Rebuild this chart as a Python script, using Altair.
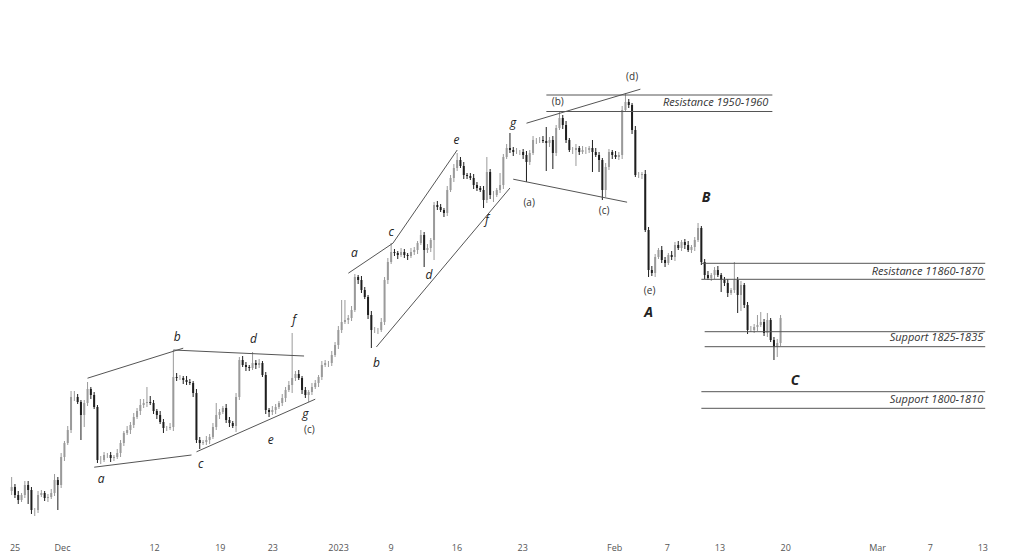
import json
import altair as alt
import pandas as pd

# ---- candle data (price units), 4 bars per trading day ----
first_open = 1762.0
closes = [
    1764, 1760, 1757.5, 1760, 1765, 1762.5, 1752.5, 1752.5, 1760, 1761,
    1758.5, 1759, 1761, 1767.5, 1765, 1779, 1786, 1792.5, 1809, 1809,
    1806.5, 1800, 1806, 1813, 1810, 1804, 1777.5, 1777.5, 1780, 1780,
    1778.5, 1779, 1781, 1786, 1791, 1792.5, 1795, 1799, 1802, 1805,
    1806, 1806.5, 1806, 1802, 1800, 1796.5, 1793.5, 1793.5, 1794, 1819,
    1818.5, 1818.5, 1817.5, 1816.5, 1816, 1811, 1787.5, 1786, 1786.5, 1787.5,
    1789, 1794, 1800, 1801.5, 1803.5, 1797.5, 1796, 1794.5, 1809, 1827.5,
    1825, 1824, 1823.5, 1826, 1825, 1826, 1820, 1802.5, 1801.5, 1802.5,
    1804, 1806, 1808.5, 1812.5, 1815, 1818.5, 1820.5, 1818.5, 1812.5, 1810,
    1811.5, 1814, 1816, 1819, 1825, 1826, 1826, 1830, 1835, 1842.5,
    1846.5, 1847.5, 1848.5, 1852.5, 1869, 1867.5, 1862.5, 1859, 1850, 1842.5,
    1842.5, 1842.5, 1846.5, 1867.5, 1876.5, 1881.5, 1881, 1880, 1881.5, 1880,
    1879.5, 1881.5, 1882.5, 1886, 1890, 1882.5, 1883.5, 1887.5, 1905, 1904,
    1902.5, 1901, 1912.5, 1918.5, 1923.5, 1927.5, 1924.5, 1920, 1919.5, 1918.5,
    1915, 1913.5, 1912.5, 1907.5, 1921.5, 1910, 1910, 1912.5, 1915, 1929,
    1933.5, 1932.5, 1931.5, 1931.5, 1931.5, 1930, 1926.5, 1931, 1937.5, 1937.5,
    1937.5, 1937, 1936, 1937.5, 1931, 1943.5, 1948.5, 1945, 1937.5, 1932.5,
    1932.5, 1933.5, 1931.5, 1932.5, 1932.5, 1933.5, 1931.5, 1930, 1927.5, 1912.5,
    1924, 1931.5, 1930, 1929, 1930, 1952.5, 1956.5, 1955, 1942.5, 1920,
    1920, 1920.5, 1892.5, 1872.5, 1871, 1879, 1882.5, 1877.5, 1876, 1880,
    1879, 1885, 1883.5, 1886.5, 1885, 1882.5, 1884, 1887.5, 1893.5, 1876.5,
    1870, 1868.5, 1870, 1872.5, 1870, 1867.5, 1866, 1861, 1862.5, 1867.5,
    1860, 1865, 1855, 1842.5, 1842.5, 1844, 1845, 1846.5, 1841, 1847.5,
    1837.5, 1834, 1836, 1848.5,
]
up_wick = [
    5, 1.5, 2, 1, 2, 2, 1.5, 1, 2, 1.5,
    1, 1.5, 2, 3, 1.5, 2, 1, 2, 3, 3,
    1.5, 1, 1.5, 3.5, 1, 1.5, 1, 2, 1.5, 1,
    1.5, 1, 2, 1.5, 1, 2, 1.5, 2, 1.5, 3,
    2, 7.5, 3, 1.5, 1, 2, 1.5, 1, 2, 13.5,
    2, 1.5, 1, 2, 1.5, 1, 2, 1.5, 1, 2,
    1.5, 2, 6, 1.5, 1, 2, 1.5, 1, 2, 1.5,
    2, 1.5, 1, 5.5, 1.5, 2, 1, 1.5, 1, 2,
    1.5, 1, 2, 1.5, 2, 22.5, 1.5, 2, 1, 1.5,
    1, 2, 1.5, 1, 2, 1.5, 1, 2, 1.5, 2,
    11, 10, 1.5, 2, 1.5, 1, 2, 1.5, 1, 2,
    1.5, 1, 2, 1.5, 2, 4.5, 1.5, 1, 2, 1.5,
    1, 2, 1.5, 1, 2.5, 1.5, 2, 1, 1.5, 2,
    1.5, 1, 2, 1.5, 2, 3.5, 1.5, 2, 1, 1.5,
    2, 1.5, 1, 2, 7.5, 1.5, 2, 1, 6, 1.5,
    2, 7.5, 1.5, 2, 1, 1.5, 2, 1.5, 2, 1,
    1.5, 2, 7, 1.5, 2, 1.5, 3, 1.5, 2, 1,
    1.5, 2, 1, 2, 1.5, 1, 4, 2, 1.5, 1,
    2, 1.5, 1, 2, 1.5, 2, 4.5, 1.5, 1, 2,
    1.5, 1, 2, 1.5, 2, 1.5, 1, 2, 1.5, 1,
    2, 1.5, 2, 1, 1.5, 2, 1, 1.5, 2.5, 1,
    1.5, 2, 1, 1.5, 2, 1, 1.5, 2, 1, 9,
    1.5, 2, 1, 1.5, 2, 1.5, 5, 5, 1.5, 3.5,
    1, 1.5, 2, 1.5,
]
down_wick = [
    2, 1.5, 2, 1, 1.5, 7, 2, 3, 1.5, 1,
    1.5, 2, 1, 1.5, 12.5, 1.5, 2, 1, 1.5, 2,
    1, 12.5, 6, 1.5, 2, 1, 1.5, 2, 1, 1.5,
    2, 1.5, 1, 2, 1.5, 1, 2, 1.5, 1, 2,
    1.5, 2, 1, 1.5, 2, 1, 2.5, 1.5, 1, 2,
    1.5, 1, 2, 1.5, 1, 2, 1.5, 3, 1, 1.5,
    2, 1, 1.5, 2, 1, 1.5, 2, 1, 3, 1.5,
    1, 2, 1.5, 1, 2, 1.5, 1, 2, 2.5, 1.5,
    2, 1, 1.5, 2, 1, 4, 1.5, 1, 2, 1.5,
    3.5, 1.5, 1, 2, 1.5, 1, 2, 1.5, 1, 2,
    1.5, 1, 2, 1.5, 1, 2, 1.5, 1, 2, 9,
    1.5, 2, 1, 1.5, 2, 1, 1.5, 2, 1, 1.5,
    2, 1, 1.5, 2, 1, 8.5, 1.5, 2, 10, 1.5,
    1, 2, 1.5, 1, 2, 1.5, 1, 2, 1.5, 1,
    2, 1.5, 1, 4, 1.5, 2, 3.5, 1, 1.5, 2,
    1, 1.5, 2, 1, 1.5, 2, 10, 1.5, 1, 2,
    1.5, 1, 14, 2, 8, 1.5, 1, 2, 1.5, 1,
    2, 8, 1.5, 1, 2, 1.5, 10, 1, 6, 5,
    3.5, 1.5, 2, 1, 1.5, 2, 1, 1.5, 2, 1,
    1.5, 2, 1, 3.5, 1.5, 2, 1, 1.5, 2, 1,
    1.5, 2, 1, 1.5, 2, 1, 1.5, 2, 1, 1.5,
    2, 1, 1.5, 2, 1, 6, 1.5, 2, 1, 1.5,
    9, 8, 1.5, 2, 1, 1.5, 2, 1, 1.5, 2,
    1, 6.5, 5, 1.5,
]
t_start = -3.83      # trading-day index of first bar (Dec 1 = 0)
t_step = 0.251       # bar spacing in trading days

# ---- x axis (trading-day index) ----
tick_vals = [-4, 0, 7, 12, 16, 21, 25, 30, 35, 42, 46, 50, 55, 62, 66, 70]
tick_labels = ["25", "Dec", "12", "19", "23", "2023", "9", "16", "23",
               "Feb", "7", "13", "20", "Mar", "7", "13"]

# ---- trend lines ----
trend_id = [1, 1, 2, 2, 3, 3, 4, 4, 5, 5, 5, 6, 6, 7, 7, 8, 8]
trend_t = [1.94, 9.22, 8.47, 18.41, 2.45, 9.85, 10.23, 19.26,
           21.78, 25.17, 30.06, 23.91, 34.07, 35.33, 43.99, 34.32, 42.98]
trend_p = [1818.4, 1833.4, 1832.5, 1829.5, 1773.9, 1780.0, 1781.6, 1807.9,
           1870.9, 1885.9, 1932.5, 1834.0, 1913.5, 1945.9, 1962.9, 1917.9, 1906.4]

# ---- horizontal zones ----
level_t1 = [36.84, 36.84, 48.63, 48.63, 48.88, 48.88, 48.63, 48.63]
level_t2 = [54.03, 54.03, 70.22, 70.22, 70.22, 70.22, 70.22, 70.22]
level_p = [1960, 1951.75, 1875.85, 1867.85, 1841.65, 1834.15, 1811.65, 1803.35]

zone_text = ["Resistance 1950-1960", "Resistance 11860-1870",
             "Support 1825-1835", "Support 1800-1810"]
zone_t = [53.73, 70.07, 70.07, 70.07]
zone_p = [1955.9, 1871.75, 1838.5, 1807.75]

# ---- wave labels ----
wave_text = ["a", "b", "c", "d", "e", "f", "g",
             "a", "b", "c", "d", "e", "f", "g"]
wave_t = [2.97, 8.77, 10.56, 14.57, 15.87, 17.66, 18.51,
          22.23, 23.91, 25.04, 27.92, 30.01, 32.32, 34.32]
wave_p = [1768, 1839, 1775.4, 1838, 1787.5, 1847.5, 1800.5,
          1881.15, 1826, 1891.65, 1870, 1937.5, 1897.5, 1945.85]

paren_text = ["(c)", "(a)", "(b)", "(c)", "(d)", "(e)"]
paren_t = [18.81, 35.53, 37.71, 41.23, 43.36, 44.69]
paren_p = [1792.5, 1906.15, 1956.35, 1902, 1969.15, 1862]

big_text = ["A", "B", "C"]
big_t = [44.62, 48.98, 55.76]
big_p = [1851, 1908.5, 1817]

# ---- build tables ----
n = min(len(closes), len(up_wick), len(down_wick))
opens = [first_open] + closes[:n - 1]
candles = pd.DataFrame({
    "t": [t_start + t_step * i for i in range(n)],
    "open": opens,
    "close": closes[:n],
})
candles["high"] = [max(o, c) + w for o, c, w in zip(opens, closes[:n], up_wick[:n])]
candles["low"] = [min(o, c) - w for o, c, w in zip(opens, closes[:n], down_wick[:n])]
candles["dir"] = ["up" if c >= o else "down" for o, c in zip(opens, closes[:n])]

trend = pd.DataFrame({"id": trend_id, "t": trend_t, "p": trend_p})
levels = pd.DataFrame({"t": level_t1, "t2": level_t2, "p": level_p})
zones = pd.DataFrame({"txt": zone_text, "t": zone_t, "p": zone_p})
waves = pd.DataFrame({"txt": wave_text, "t": wave_t, "p": wave_p})
parens = pd.DataFrame({"txt": paren_text, "t": paren_t, "p": paren_p})
bigs = pd.DataFrame({"txt": big_text, "t": big_t, "p": big_p})

FONT = "Open Sans"
label_expr = "%s[indexof(%s, datum.value)]" % (json.dumps(tick_labels), json.dumps(tick_vals))

xscale = alt.Scale(domain=[-3.727, 72.18], nice=False, zero=False)
yscale = alt.Scale(domain=[1740, 2003.5], nice=False, zero=False)

X = alt.X("t:Q", scale=xscale, title=None,
          axis=alt.Axis(values=tick_vals, labelExpr=label_expr, grid=False,
                        domain=False, ticks=False, labelColor="#555555",
                        labelFont=FONT, labelFontSize=9, labelPadding=8,
                        labelFlush=6, labelOverlap=False))
Y_low = alt.Y("low:Q", scale=yscale, axis=None)

color = alt.Color("dir:N", legend=None,
                  scale=alt.Scale(domain=["up", "down"], range=["#9a9a9a", "#1e1e1e"]))

wicks = alt.Chart(candles).mark_rule(strokeWidth=1).encode(
    x=X, y=Y_low, y2="high:Q", color=color)
bodies = alt.Chart(candles).mark_bar(size=2).encode(
    x="t:Q", y=alt.Y("open:Q", scale=yscale, axis=None), y2="close:Q", color=color)

trend_lines = alt.Chart(trend).mark_line(color="#555555", strokeWidth=1).encode(
    x="t:Q", y=alt.Y("p:Q", scale=yscale, axis=None), detail="id:N")

level_rules = alt.Chart(levels).mark_rule(color="#555555", strokeWidth=1).encode(
    x="t:Q", x2="t2:Q", y=alt.Y("p:Q", scale=yscale, axis=None))

zone_labels = alt.Chart(zones).mark_text(
    align="right", baseline="middle", font=FONT, fontSize=11,
    fontStyle="italic", color="#333333").encode(
    x="t:Q", y=alt.Y("p:Q", scale=yscale, axis=None), text="txt:N")

wave_labels = alt.Chart(waves).mark_text(
    align="center", baseline="middle", font=FONT, fontSize=12,
    fontStyle="italic", color="#222222").encode(
    x="t:Q", y=alt.Y("p:Q", scale=yscale, axis=None), text="txt:N")

paren_labels = alt.Chart(parens).mark_text(
    align="center", baseline="middle", font=FONT, fontSize=10,
    color="#333333").encode(
    x="t:Q", y=alt.Y("p:Q", scale=yscale, axis=None), text="txt:N")

big_labels = alt.Chart(bigs).mark_text(
    align="center", baseline="middle", font=FONT, fontSize=14,
    fontStyle="italic", fontWeight="bold", color="#222222").encode(
    x="t:Q", y=alt.Y("p:Q", scale=yscale, axis=None), text="txt:N")

chart = alt.layer(
    wicks, bodies, trend_lines, level_rules,
    zone_labels, wave_labels, paren_labels, big_labels
).properties(
    width=1008, height=527,
    autosize=alt.AutoSizeParams(type="none"),
    padding={"left": 0, "top": 0, "right": 0, "bottom": 17},
    background="white",
).configure_view(stroke=None)

chart.save("out.html", embed_options={"renderer": "svg", "actions": False})
